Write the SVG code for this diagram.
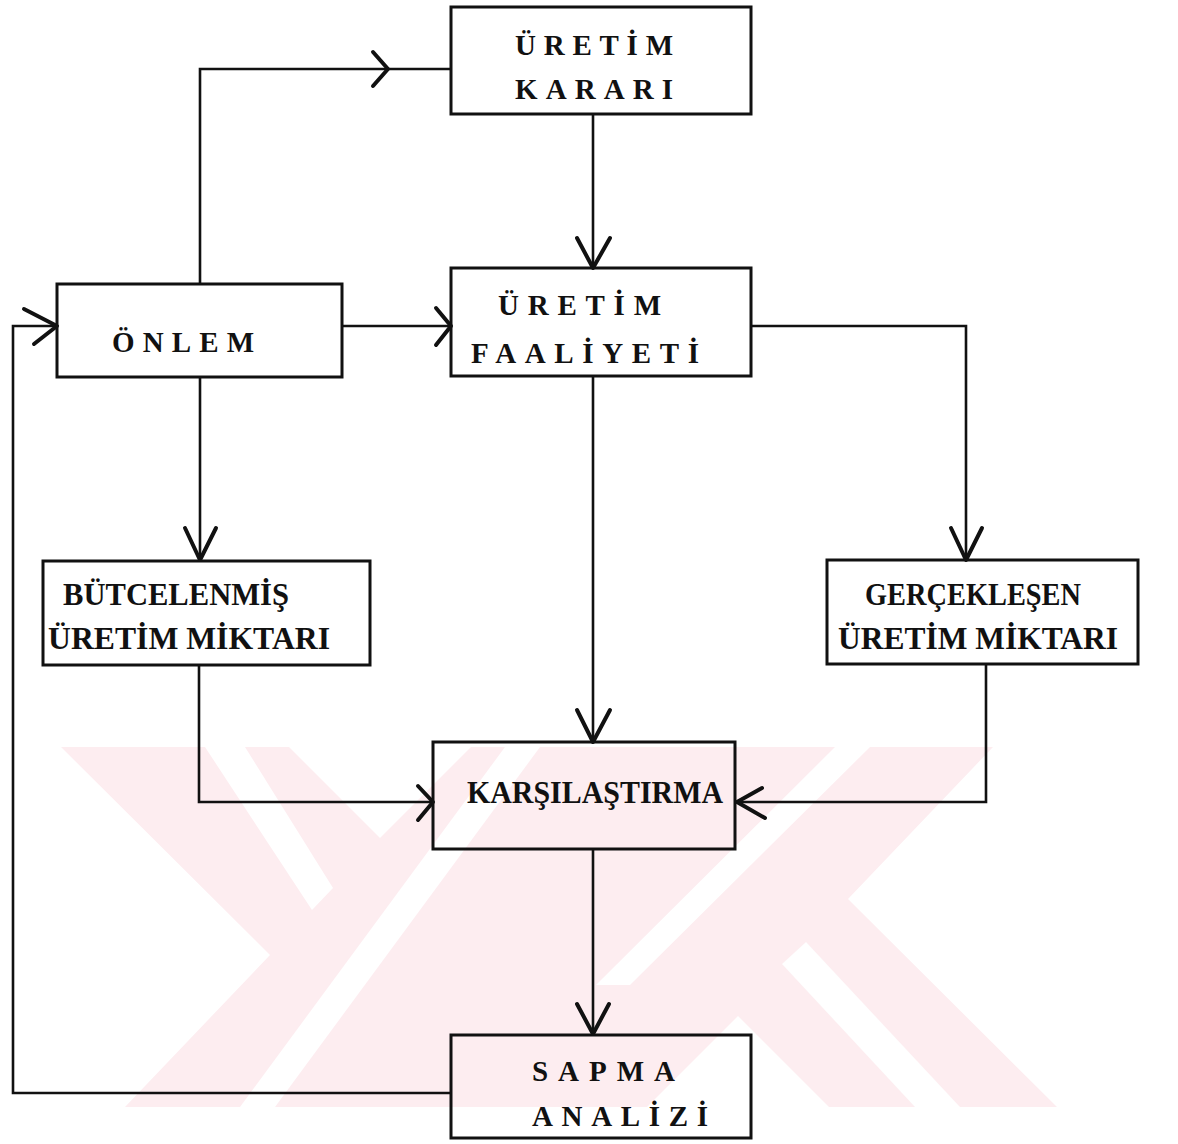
<svg xmlns="http://www.w3.org/2000/svg" width="1178" height="1144" viewBox="0 0 1178 1144">
<style>
.box{fill:none;stroke:#111;stroke-width:3}
.ln{fill:none;stroke:#111;stroke-width:2.6;stroke-linejoin:miter}
.ah{fill:none;stroke:#111;stroke-width:4;stroke-linecap:round;stroke-linejoin:round}
.t{font-family:"Liberation Serif","DejaVu Serif",serif;font-weight:bold;fill:#111}
.sp{font-size:29px}
.cd{font-size:31px}
.wm{fill:#fdedf0}
.wg{fill:#ffffff}
</style>
<rect width="1178" height="1144" fill="#ffffff"/>
<g id="watermark">
<polygon class="wm" points="61,747 289,747 380,838 471,747 993,747 848,899 1057,1107 829,1107 738,1016 647,1107 125,1107 270,955"/>
<polygon class="wg" points="205,747 245,747 333,888 312,910"/>
<polygon class="wg" points="806,942 782,964 915,1107 960,1107"/>
<polygon class="wg" points="240,1107 275,1107 540,747 505,747"/>
<polygon class="wg" points="835,747 870,747 630,985 596,985"/>
</g>
<g id="connectors">
<polyline class="ln" points="200,284 200,69 451,69"/>
<polyline class="ah" points="373,52 388,69 373,86"/>
<polyline class="ln" points="593,114 593,268"/>
<polyline class="ah" points="577,238 593,268 610,238"/>
<polyline class="ln" points="342,326 451,326"/>
<polyline class="ah" points="436,308 451,326 436,345"/>
<polyline class="ln" points="451,1093 13,1093 13,326 57,326"/>
<polyline class="ah" points="24,309 57,326 34,344"/>
<polyline class="ln" points="200,377 200,560"/>
<polyline class="ah" points="185,528 200,560 216,528"/>
<polyline class="ln" points="751,326 966,326 966,560"/>
<polyline class="ah" points="951,528 966,560 982,528"/>
<polyline class="ln" points="593,376 593,742"/>
<polyline class="ah" points="577,710 593,742 610,710"/>
<polyline class="ln" points="199,665 199,802 433,802"/>
<polyline class="ah" points="418,786 433,802 418,820"/>
<polyline class="ln" points="986,664 986,802 735,802"/>
<polyline class="ah" points="762,788 737,802 765,818"/>
<polyline class="ln" points="593,849 593,1035"/>
<polyline class="ah" points="577,1004 593,1034 609,1004"/>
</g>
<g id="uretim-karari">
<rect class="box" x="451" y="7" width="300" height="107"/>
<text class="t sp" x="515" y="55" textLength="158" lengthAdjust="spacing">ÜRETİM</text>
<text class="t sp" x="515" y="99" textLength="158" lengthAdjust="spacing">KARARI</text>
</g>
<g id="uretim-faaliyeti">
<rect class="box" x="451" y="268" width="300" height="108"/>
<text class="t sp" x="498" y="315" textLength="163" lengthAdjust="spacing">ÜRETİM</text>
<text class="t sp" x="471" y="363" textLength="228" lengthAdjust="spacing">FAALİYETİ</text>
</g>
<g id="onlem">
<rect class="box" x="57" y="284" width="285" height="93"/>
<text class="t sp" x="112" y="352" textLength="142" lengthAdjust="spacing">ÖNLEM</text>
</g>
<g id="butcelenmis">
<rect class="box" x="43" y="561" width="327" height="104"/>
<text class="t cd" x="63" y="605" textLength="226" lengthAdjust="spacingAndGlyphs">BÜTCELENMİŞ</text>
<text class="t cd" x="48" y="649" textLength="282" lengthAdjust="spacingAndGlyphs">ÜRETİM MİKTARI</text>
</g>
<g id="gerceklesen">
<rect class="box" x="827" y="560" width="311" height="104"/>
<text class="t cd" x="865" y="605" textLength="216" lengthAdjust="spacingAndGlyphs">GERÇEKLEŞEN</text>
<text class="t cd" x="838" y="649" textLength="280" lengthAdjust="spacingAndGlyphs">ÜRETİM MİKTARI</text>
</g>
<g id="karsilastirma">
<rect class="box" x="433" y="742" width="302" height="107"/>
<text class="t cd" x="467" y="803" textLength="256" lengthAdjust="spacingAndGlyphs">KARŞILAŞTIRMA</text>
</g>
<g id="sapma-analizi">
<rect class="box" x="451" y="1035" width="300" height="103"/>
<text class="t sp" x="532" y="1081" textLength="143" lengthAdjust="spacing">SAPMA</text>
<text class="t sp" x="532" y="1126" textLength="176" lengthAdjust="spacing">ANALİZİ</text>
</g>
</svg>
